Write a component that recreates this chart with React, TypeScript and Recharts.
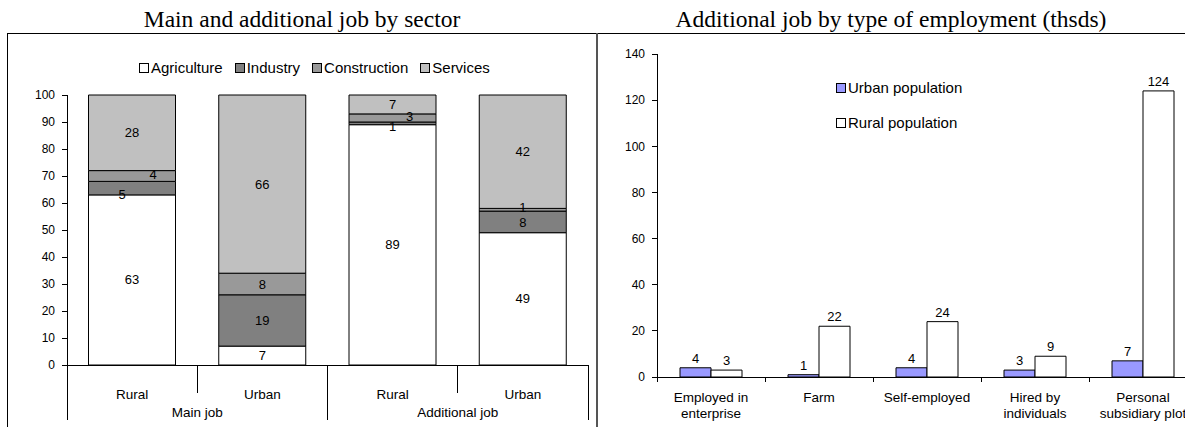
import React from "react";
import { BarChart, Bar, XAxis, YAxis, Legend, LabelList } from "recharts";

// Sector shares (%) of the main and additional job, by settlement type
const settlements = ["Rural", "Urban", "Rural", "Urban"];
const jobTypes = ["Main job", "Main job", "Additional job", "Additional job"];
const agriculture = [63, 7, 89, 49];
const industry = [5, 19, 1, 8];
const construction = [4, 8, 3, 1];
const services = [28, 66, 7, 42];
const shareTicks = [0, 10, 20, 30, 40, 50, 60, 70, 80, 90, 100];
const sectorNames = ["Agriculture", "Industry", "Construction", "Services"];

// Additional job by type of employment, thousands of people
const employmentTypes = [
  "Employed in enterprise",
  "Farm",
  "Self-employed",
  "Hired by individuals",
  "Personal subsidiary plot",
];
const employmentLabelLines = [
  ["Employed in", "enterprise"],
  ["Farm"],
  ["Self-employed"],
  ["Hired by", "individuals"],
  ["Personal", "subsidiary plot"],
];
const urbanPopulation = [4, 1, 4, 3, 7];
const ruralPopulation = [3, 22, 24, 9, 124];
const countTicks = [0, 20, 40, 60, 80, 100, 120, 140];
const populationNames = ["Urban population", "Rural population"];

const SANS = '"Liberation Sans", Arial, Helvetica, sans-serif';
const SERIF = '"Liberation Serif", "Times New Roman", Times, serif';

const sectorData = settlements.map((place, i) => ({
  slot: `${jobTypes[i]} / ${place}`,
  agriculture: agriculture[i],
  industry: industry[i],
  construction: construction[i],
  services: services[i],
}));

const employmentData = employmentTypes.map((type, i) => ({
  type,
  urban: urbanPopulation[i],
  rural: ruralPopulation[i],
}));

// Chart geometry
const SECTOR_W = 600;
const SECTOR_MARGIN = { top: 95, right: 12, bottom: 0, left: 7 };
const SECTOR_YAXIS_W = 60;
const SECTOR_PLOT_W = SECTOR_W - SECTOR_MARGIN.left - SECTOR_MARGIN.right - SECTOR_YAXIS_W;

const EMP_W = 600;
const EMP_MARGIN = { top: 54, right: 0, bottom: 0, left: 0 };
const EMP_YAXIS_W = 60;
const EMP_PLOT_W = EMP_W - EMP_MARGIN.left - EMP_MARGIN.right - EMP_YAXIS_W;

const CHART_H = 427;

const tickText = { fill: "#000", fontSize: 12, fontFamily: SANS };

// Labels of thin segments are pushed aside so they do not sit on each other
const labelNudges: Record<string, Record<number, [number, number]>> = {
  industry: { 0: [-10, 6], 2: [0, 3], 3: [0, 1] },
  construction: { 0: [21, -2], 2: [17, -1], 3: [0, -2] },
};

function segmentLabel(series: string) {
  return (props: any) => {
    const vb = props.viewBox ?? props;
    const x = Number(vb.x ?? props.x);
    const y = Number(vb.y ?? props.y);
    const w = Number(vb.width ?? props.width);
    const h = Number(vb.height ?? props.height);
    const index: number = props.index ?? 0;
    const [dx, dy] = labelNudges[series]?.[index] ?? [0, 0];
    return (
      <text
        x={x + w / 2 + dx}
        y={y + h / 2 + dy}
        textAnchor="middle"
        dominantBaseline="central"
        fill="#000"
        fontSize={13}
        fontFamily={SANS}
      >
        {props.value}
      </text>
    );
  };
}

function SectorTick(props: any) {
  const { x, y } = props;
  const index: number = props.index ?? props.payload?.index ?? 0;
  const n = settlements.length;
  const band = SECTOR_PLOT_W / n;
  const left = x - band / 2;
  const startsGroup = index === 0 || jobTypes[index] !== jobTypes[index - 1];
  let groupEnd = index;
  while (groupEnd + 1 < n && jobTypes[groupEnd + 1] === jobTypes[index]) groupEnd++;
  const groupCenter = left + (band * (groupEnd - index + 1)) / 2;
  return (
    <g>
      <line
        x1={left}
        x2={left}
        y1={y}
        y2={y + (startsGroup ? 55 : 28)}
        stroke="#000"
        shapeRendering="crispEdges"
      />
      {index === n - 1 && (
        <line
          x1={left + band}
          x2={left + band}
          y1={y}
          y2={y + 55}
          stroke="#000"
          shapeRendering="crispEdges"
        />
      )}
      <text
        x={x}
        y={y + 29}
        textAnchor="middle"
        dominantBaseline="central"
        fill="#000"
        fontSize={13.5}
        fontFamily={SANS}
      >
        {settlements[index]}
      </text>
      {startsGroup && (
        <text
          x={groupCenter}
          y={y + 47}
          textAnchor="middle"
          dominantBaseline="central"
          fill="#000"
          fontSize={13.5}
          fontFamily={SANS}
        >
          {jobTypes[index]}
        </text>
      )}
    </g>
  );
}

function EmploymentTick(props: any) {
  const { x, y } = props;
  const index: number = props.index ?? props.payload?.index ?? 0;
  const n = employmentTypes.length;
  const band = EMP_PLOT_W / n;
  const left = x - band / 2;
  const lines = employmentLabelLines[index] || [];
  return (
    <g>
      <line x1={left} x2={left} y1={y} y2={y + 5} stroke="#000" shapeRendering="crispEdges" />
      {index === n - 1 && (
        <line
          x1={left + band}
          x2={left + band}
          y1={y}
          y2={y + 5}
          stroke="#000"
          shapeRendering="crispEdges"
        />
      )}
      {lines.map((line, k) => (
        <text
          key={k}
          x={x}
          y={y + 20 + k * 16}
          textAnchor="middle"
          dominantBaseline="central"
          fill="#000"
          fontSize={13.5}
          fontFamily={SANS}
        >
          {line}
        </text>
      ))}
    </g>
  );
}

function legendSwatch(entry: any) {
  return entry?.payload?.fill ?? entry?.color ?? "#fff";
}

// keep legend entries in series order
function ordered(items: any[], names: string[]) {
  return [...items].sort((a, b) => names.indexOf(a.value) - names.indexOf(b.value));
}

function Swatch({ color }: { color: string }) {
  return (
    <span
      style={{
        display: "inline-block",
        width: 10,
        height: 10,
        boxSizing: "border-box",
        border: "1px solid #000",
        background: color,
        marginRight: 2,
      }}
    />
  );
}

function SectorLegend(props: any) {
  const items = ordered(props.payload || [], sectorNames);
  return (
    <div
      style={{
        display: "flex",
        alignItems: "center",
        fontFamily: SANS,
        fontSize: 15,
        lineHeight: "18px",
        color: "#000",
        whiteSpace: "nowrap",
      }}
    >
      {items.map((it: any, i: number) => (
        <div key={i} style={{ display: "flex", alignItems: "center", marginRight: 12 }}>
          <Swatch color={legendSwatch(it)} />
          <span>{it.value}</span>
        </div>
      ))}
    </div>
  );
}

function EmploymentLegend(props: any) {
  const items = ordered(props.payload || [], populationNames);
  return (
    <div
      style={{
        display: "flex",
        flexDirection: "column",
        fontFamily: SANS,
        fontSize: 15,
        lineHeight: "18px",
        color: "#000",
        whiteSpace: "nowrap",
      }}
    >
      {items.map((it: any, i: number) => (
        <div
          key={i}
          style={{ display: "flex", alignItems: "center", marginBottom: i === items.length - 1 ? 0 : 17 }}
        >
          <Swatch color={legendSwatch(it)} />
          <span>{it.value}</span>
        </div>
      ))}
    </div>
  );
}

const valueLabel = { fill: "#000", fontSize: 13, fontFamily: SANS };

export default function App() {
  return (
    <div
      style={{
        position: "absolute",
        left: 0,
        top: 0,
        width: 1185,
        height: 427,
        overflow: "hidden",
        background: "#fff",
      }}
    >
      {/* panel titles */}
      <div
        style={{
          position: "absolute",
          left: 7,
          top: 7,
          width: 590,
          textAlign: "center",
          fontFamily: SERIF,
          fontSize: 23.5,
          lineHeight: "24px",
          color: "#000",
          whiteSpace: "nowrap",
        }}
      >
        Main and additional job by sector
      </div>
      <div
        style={{
          position: "absolute",
          left: 597,
          top: 7,
          width: 588,
          textAlign: "center",
          fontFamily: SERIF,
          fontSize: 23.5,
          lineHeight: "24px",
          color: "#000",
          whiteSpace: "nowrap",
        }}
      >
        Additional job by type of employment (thsds)
      </div>

      {/* panel frame */}
      <div style={{ position: "absolute", left: 7, top: 33, width: 1178, height: 1, background: "#000" }} />
      <div style={{ position: "absolute", left: 7, top: 33, width: 1, height: 394, background: "#000" }} />
      <div style={{ position: "absolute", left: 596, top: 33, width: 2, height: 394, background: "#555" }} />

      {/* sector structure, stacked shares */}
      <div style={{ position: "absolute", left: 0, top: 0 }}>
        <BarChart
          width={SECTOR_W}
          height={CHART_H}
          data={sectorData}
          margin={SECTOR_MARGIN}
          barCategoryGap={21.5}
        >
          <XAxis
            dataKey="slot"
            height={62}
            tickSize={0}
            tickMargin={0}
            tickLine={false}
            interval={0}
            axisLine={{ stroke: "#000", shapeRendering: "crispEdges" }}
            tick={<SectorTick />}
          />
          <YAxis
            width={SECTOR_YAXIS_W}
            domain={[0, 100]}
            ticks={shareTicks}
            interval={0}
            tickSize={5}
            tickMargin={7}
            axisLine={{ stroke: "#000", shapeRendering: "crispEdges" }}
            tickLine={{ stroke: "#000", shapeRendering: "crispEdges" }}
            tick={tickText}
          />
          <Legend
            layout="horizontal"
            align="center"
            verticalAlign="middle"
            width={420}
            wrapperStyle={{ left: 139, top: 59 }}
            content={<SectorLegend />}
          />
          <Bar dataKey="agriculture" name={sectorNames[0]} stackId="s" fill="#ffffff" stroke="#000" strokeWidth={1} isAnimationActive={false}>
            <LabelList dataKey="agriculture" content={segmentLabel("agriculture")} />
          </Bar>
          <Bar dataKey="industry" name={sectorNames[1]} stackId="s" fill="#808080" stroke="#000" strokeWidth={1} isAnimationActive={false}>
            <LabelList dataKey="industry" content={segmentLabel("industry")} />
          </Bar>
          <Bar dataKey="construction" name={sectorNames[2]} stackId="s" fill="#999999" stroke="#000" strokeWidth={1} isAnimationActive={false}>
            <LabelList dataKey="construction" content={segmentLabel("construction")} />
          </Bar>
          <Bar dataKey="services" name={sectorNames[3]} stackId="s" fill="#c0c0c0" stroke="#000" strokeWidth={1} isAnimationActive={false}>
            <LabelList dataKey="services" content={segmentLabel("services")} />
          </Bar>
        </BarChart>
      </div>

      {/* additional job by type of employment */}
      <div style={{ position: "absolute", left: 597, top: 0 }}>
        <BarChart
          width={EMP_W}
          height={CHART_H}
          data={employmentData}
          margin={EMP_MARGIN}
          barCategoryGap={23}
          barGap={0}
        >
          <XAxis
            dataKey="type"
            height={50}
            tickSize={0}
            tickMargin={0}
            tickLine={false}
            interval={0}
            axisLine={{ stroke: "#000", shapeRendering: "crispEdges" }}
            tick={<EmploymentTick />}
          />
          <YAxis
            width={EMP_YAXIS_W}
            domain={[0, 140]}
            ticks={countTicks}
            interval={0}
            tickSize={5}
            tickMargin={7}
            axisLine={{ stroke: "#000", shapeRendering: "crispEdges" }}
            tickLine={{ stroke: "#000", shapeRendering: "crispEdges" }}
            tick={tickText}
          />
          <Legend
            layout="vertical"
            align="center"
            verticalAlign="middle"
            width={200}
            wrapperStyle={{ left: 239, top: 79 }}
            content={<EmploymentLegend />}
          />
          <Bar dataKey="urban" name={populationNames[0]} fill="#9999ff" stroke="#000" strokeWidth={1} isAnimationActive={false}>
            <LabelList dataKey="urban" position="top" offset={5} {...valueLabel} />
          </Bar>
          <Bar dataKey="rural" name={populationNames[1]} fill="#ffffff" stroke="#000" strokeWidth={1} isAnimationActive={false}>
            <LabelList dataKey="rural" position="top" offset={5} {...valueLabel} />
          </Bar>
        </BarChart>
      </div>
    </div>
  );
}
